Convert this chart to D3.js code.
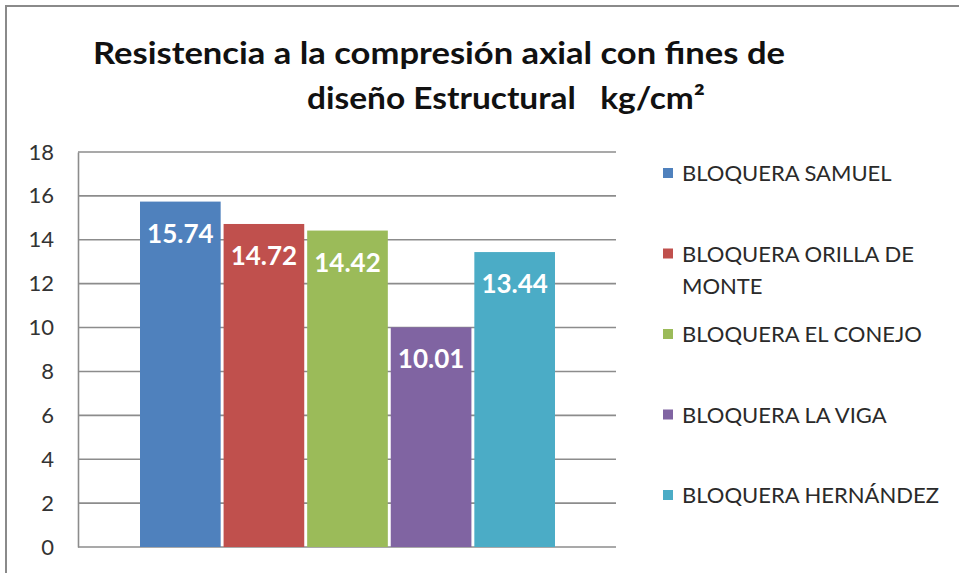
<!DOCTYPE html>
<html>
<head>
<meta charset="utf-8">
<script src="https://cdn.jsdelivr.net/npm/d3@7"></script>
<style>
  body { margin: 0; background: #fff; }
  svg { display: block; font-family: Lato, "Open Sans", sans-serif; }
  .title { white-space: pre; }
</style>
</head>
<body>
<svg id="chart"></svg>
<script>
// data
var companies = ["BLOQUERA SAMUEL", "BLOQUERA ORILLA DE MONTE", "BLOQUERA EL CONEJO", "BLOQUERA LA VIGA", "BLOQUERA HERNÁNDEZ"];
var strength = [15.74, 14.72, 14.42, 10.01, 13.44];
var colors = ["#4F81BD", "#C0504D", "#9BBB59", "#8064A2", "#4BACC6"];
var yTicks = [0, 2, 4, 6, 8, 10, 12, 14, 16, 18];
var titleLines = ["Resistencia a la compresión axial con fines de", "diseño Estructural   kg/cm²"];

var width = 959;
var height = 573;

var svg = d3.select("#chart")
    .attr("width", width)
    .attr("height", height);

// outer chart frame (only top and left show in the crop)
svg.append("path")
    .attr("d", "M6,573 L6,6 L959,6")
    .attr("fill", "none")
    .attr("stroke", "#8a8a8a")
    .attr("stroke-width", 2);

// title
var titleX = [93, 307];
var titleY = [64, 109];
var titleW = [692, 398];
svg.selectAll("text.title")
    .data(titleLines)
    .enter()
    .append("text")
    .attr("class", "title")
    .attr("x", function(d, i) { return titleX[i]; })
    .attr("y", function(d, i) { return titleY[i]; })
    .attr("textLength", function(d, i) { return titleW[i]; })
    .attr("lengthAdjust", "spacingAndGlyphs")
    .attr("font-size", 30)
    .attr("font-weight", "bold")
    .attr("fill", "#111")
    .text(function(d) { return d; });

var plotLeft = 78;
var plotRight = 616;

var yScale = d3.scaleLinear()
    .domain([0, 18])
    .range([547, 152]);

var xScale = d3.scaleBand()
    .domain(companies)
    .range([140, 555])
    .paddingInner(0.035);

// gridlines
svg.selectAll("line.grid")
    .data(yTicks)
    .enter()
    .append("line")
    .attr("class", "grid")
    .attr("x1", plotLeft)
    .attr("x2", plotRight)
    .attr("y1", function(d) { return yScale(d); })
    .attr("y2", function(d) { return yScale(d); })
    .attr("stroke", "#8c8c8c")
    .attr("stroke-width", 1.6);

// y axis
var yAxis = d3.axisLeft(yScale)
    .tickValues(yTicks)
    .tickSize(0)
    .tickPadding(24);

var yAxisG = svg.append("g")
    .attr("transform", "translate(" + plotLeft + ",0)")
    .call(yAxis);
yAxisG.select(".domain")
    .attr("stroke", "#8c8c8c")
    .attr("stroke-width", 1.6);
yAxisG.selectAll("text")
    .attr("font-family", "Lato, sans-serif")
    .attr("font-size", 22)
    .attr("fill", "#333");

// bars
svg.selectAll("rect.bar")
    .data(strength)
    .enter()
    .append("rect")
    .attr("class", "bar")
    .attr("x", function(d, i) { return xScale(companies[i]); })
    .attr("y", function(d) { return yScale(d); })
    .attr("width", xScale.bandwidth())
    .attr("height", function(d) { return yScale(0) - yScale(d); })
    .attr("fill", function(d, i) { return colors[i]; });

// value labels
svg.selectAll("text.value")
    .data(strength)
    .enter()
    .append("text")
    .attr("class", "value")
    .attr("x", function(d, i) { return xScale(companies[i]) + xScale.bandwidth() / 2; })
    .attr("y", function(d) { return yScale(d) + 41; })
    .attr("text-anchor", "middle")
    .attr("font-size", 26)
    .attr("font-weight", "bold")
    .attr("fill", "#fff")
    .text(function(d) { return d.toFixed(2); });

// legend
var legend = svg.append("g");
var legendX = 663;
var textX = 682;
var maxLine = 285;
companies.forEach(function(name, i)
{
    var cy = 173 + i * 80.5;
    legend.append("rect")
        .attr("x", legendX)
        .attr("y", cy - 5)
        .attr("width", 10)
        .attr("height", 10)
        .attr("fill", colors[i]);
    var t = legend.append("text")
        .attr("x", textX)
        .attr("y", cy + 8)
        .attr("font-size", 22)
        .attr("fill", "#2a2a2a");
    // simple word wrap
    var words = name.split(" ");
    var line = [];
    var tspan = t.append("tspan").attr("x", textX).attr("dy", 0);
    words.forEach(function(w)
    {
        line.push(w);
        tspan.text(line.join(" "));
        if (tspan.node().getComputedTextLength() > maxLine && line.length > 1)
        {
            line.pop();
            tspan.text(line.join(" "));
            line = [w];
            tspan = t.append("tspan").attr("x", textX).attr("dy", 32).text(w);
        }
    });
});
</script>
</body>
</html>
